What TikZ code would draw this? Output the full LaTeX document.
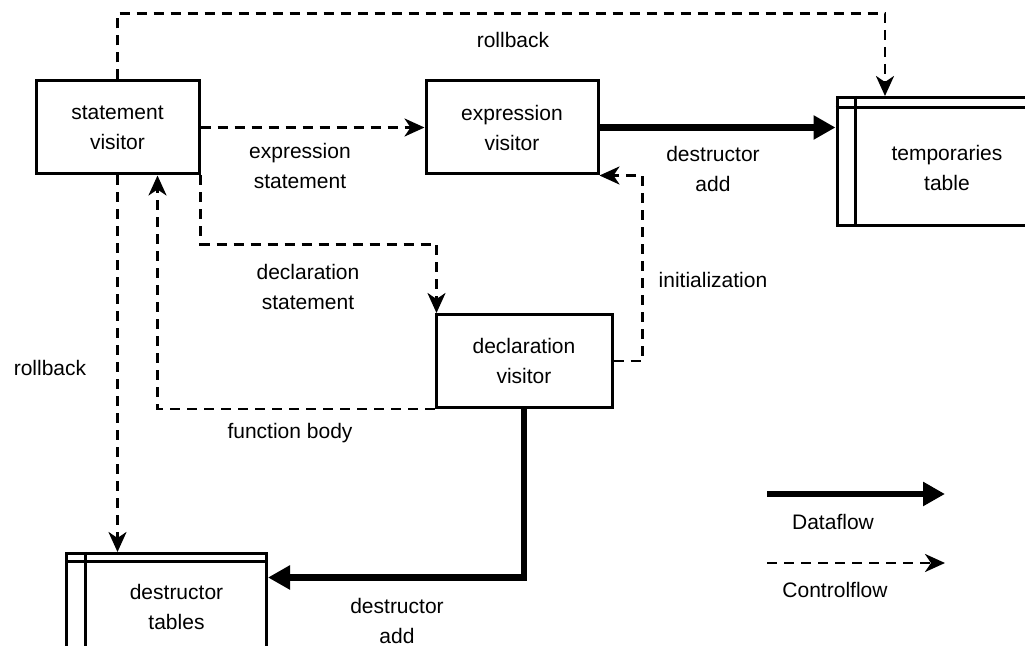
\documentclass[tikz,border=0pt]{standalone}
\usepackage{fontspec}
\setmainfont{Liberation Sans}
\usepackage{tikz}
\usetikzlibrary{arrows.meta}

\begin{document}
\begin{tikzpicture}[x=0.5pt,y=-0.5pt,font=\fontsize{10.5}{15}\selectfont,
  visitor/.style={draw,line width=1.5pt,align=center,minimum width=#1,minimum height=46.5pt},
  tbl/.style={draw,line width=1.5pt,minimum width=100pt,minimum height=64pt},
  ctrl/.style={line width=1.4pt,dash pattern=on 5pt off 3.5pt,-{Stealth[length=10pt,width=9pt,inset=3pt]}},
  data/.style={line width=3.2pt,-{Triangle[length=11pt,width=11.5pt]}},
  lbl/.style={align=center}]
\useasboundingbox (0,0) rectangle (1025,646);
\clip (0,0) rectangle (1025,646);
% visitors
\node[visitor=81.5pt] (stmt) at (117.5,127.5) {statement\\visitor};
\node[visitor=86pt] (expr) at (512,127.5) {expression\\visitor};
\node[visitor=88pt] (decl) at (524,361) {declaration\\visitor};
% tables
\node[tbl] (temps) at (937,161.5) {};
\draw[line width=1.5pt] ([xshift=10pt]temps.north west) -- ([xshift=10pt]temps.south west);
\draw[line width=1.5pt] ([yshift=-6pt]temps.north west) -- ([yshift=-6pt]temps.north east);
\node[lbl] (tempstext) at (947,168) {temporaries\\table};
\node[tbl] (dtors) at (166.5,617.5) {};
\draw[line width=1.5pt] ([xshift=10pt]dtors.north west) -- ([xshift=10pt]dtors.south west);
\draw[line width=1.5pt] ([yshift=-5pt]dtors.north west) -- ([yshift=-5pt]dtors.north east);
\node[lbl] (dtorstext) at (176.5,607) {destructor\\tables};
% flows
\draw[ctrl] (stmt.north) -- ++(0,-66) -| ([xshift=-26pt]temps.north);
\node (rbtop) at (513,40) {rollback};
\draw[ctrl] (stmt.east) -- (expr.west);
\node[lbl] (exprstmt) at (300,166) {expression\\statement};
\draw[data] (expr.east) -- (expr.east -| temps.west);
\node[lbl] (dadd1) at (713,169) {destructor\\add};
\draw[ctrl] (decl.east) -- ++(29,0) |- (expr.south east);
\node (init) at (713,280) {initialization};
\draw[ctrl] (stmt.south east) -- ++(0,69) -| ([xshift=1pt]decl.north west);
\node[lbl] (declstmt) at (308,287) {declaration\\statement};
\draw[ctrl] (decl.south west) -| ([xshift=20pt]stmt.south);
\node (fbody) at (290,433) {function body};
\draw[ctrl] (stmt.south) -- (stmt.south |- dtors.north);
\node (rbleft) at (50,368) {rollback};
\draw[data] (decl.south) |- ([yshift=20pt]dtors.east);
\node[lbl] (dadd2) at (397,621) {destructor\\add};
% legend
\coordinate (dfa) at (767,494); \coordinate (dfb) at (945,494);
\draw[data] (dfa) -- (dfb); \node (dflbl) at (833,522) {Dataflow};
\coordinate (cfa) at (767,563); \coordinate (cfb) at (945,563);
\draw[ctrl] (cfa) -- (cfb); \node (cflbl) at (835,590) {Controlflow};
\end{tikzpicture}
\end{document}
